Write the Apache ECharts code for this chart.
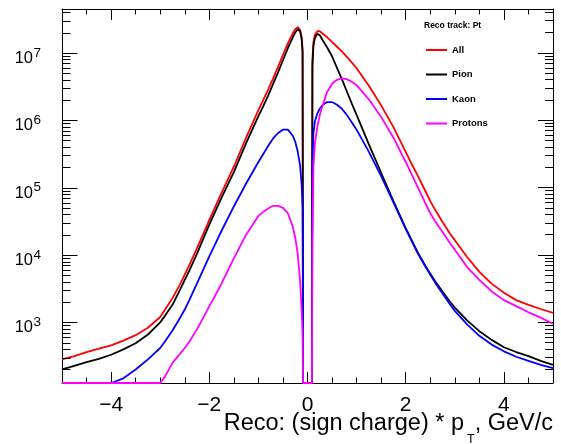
<!DOCTYPE html>
<html><head><meta charset="utf-8">
<script src="https://cdn.jsdelivr.net/npm/echarts@6/dist/echarts.min.js"></script>
<style>html,body{margin:0;padding:0;background:#fff}#c{width:561px;height:444px}</style>
</head><body><div id="c"></div>
<script>
// Reco: (sign charge) * pT  bin positions (GeV/c)
const PT = [-5.0, -4.75, -4.5, -4.25, -4.0, -3.75, -3.5, -3.25, -3.0, -2.9,
  -2.75, -2.6, -2.5, -2.4, -2.25, -2.1, -2.0, -1.9, -1.75, -1.5,
  -1.25, -1.0, -0.9, -0.8, -0.7, -0.6, -0.5, -0.4, -0.3, -0.25,
  -0.2, -0.15, -0.12, -0.1, -0.09, 0.09, 0.1, 0.12, 0.15, 0.2,
  0.25, 0.3, 0.4, 0.5, 0.6, 0.7, 0.8, 0.9, 1.0, 1.25,
  1.5, 1.75, 2.0, 2.1, 2.25, 2.4, 2.5, 2.6, 2.75, 2.9,
  3.0, 3.25, 3.5, 3.75, 4.0, 4.25, 4.5, 4.75, 5.0];
const ALL = [282, 316, 363, 407, 457, 537, 646, 832, 1200, 1550,
  2290, 3630, 5130, 7240, 12600, 22400, 33100, 47900, 83200, 204000,
  550000, 1.41e6, 2.0e6, 2.88e6, 4.17e6, 6.17e6, 9.33e6, 1.38e7, 1.95e7, 2.24e7,
  2.4e7, 2.19e7, 1.74e7, 1.12e7, 0, 0, 7.9e6, 1.41e7, 1.86e7, 2.09e7,
  2.09e7, 1.95e7, 1.7e7, 1.45e7, 1.23e7, 1.05e7, 8.7e6, 7.2e6, 5.9e6, 3.24e6,
  1.66e6, 7.9e5, 3.4e5, 2.4e5, 1.48e5, 89000, 63000, 46800, 30900, 20900,
  16600, 9330, 5620, 3760, 2750, 2140, 1820, 1580, 1380];
const PION = [200, 226, 257, 288, 331, 398, 490, 661, 1000, 1260,
  1820, 3020, 4270, 6030, 10500, 19100, 28200, 40700, 70800, 170000,
  457000, 1.15e6, 1.62e6, 2.34e6, 3.47e6, 5.13e6, 7.76e6, 1.17e7, 1.7e7, 2.0e7,
  2.24e7, 2.09e7, 1.62e7, 1.0e7, 0, 0, 6.3e6, 1.26e7, 1.66e7, 1.91e7,
  1.82e7, 1.58e7, 1.2e7, 8.9e6, 6.0e6, 4.07e6, 2.69e6, 1.78e6, 1.2e6, 4.37e5,
  1.66e5, 63100, 25100, 17800, 10700, 6920, 5250, 4070, 2880, 2040,
  1660, 1070, 741, 550, 427, 363, 316, 269, 234];
const KAON = [56, 63, 76, 91, 112, 148, 200, 282, 417, 525,
  759, 1150, 1550, 2190, 3800, 6610, 9550, 13500, 22900, 52500,
  115000, 240000, 316000, 417000, 537000, 646000, 724000, 724000, 589000, 479000,
  347000, 209000, 112000, 50000, 0, 0, 200000, 631000, 955000, 1.26e6,
  1.48e6, 1.66e6, 1.86e6, 1.86e6, 1.7e6, 1.48e6, 1.2e6, 933000, 724000, 339000,
  148000, 60300, 24500, 17400, 10500, 6760, 5130, 3890, 2690, 1860,
  1480, 933, 631, 468, 372, 309, 269, 234, 209];
const PROTONS = [0, 0, 0, 0, 0, 0, 0, 0, 0, 158,
  251, 339, 417, 525, 794, 1260, 1740, 2340, 3800, 8910,
  20000, 38000, 43700, 49000, 53700, 53700, 50100, 41700, 26300, 18200,
  10500, 3980, 1580, 630, 0, 0, 15800, 200000, 447000, 794000,
  1.2e6, 1.58e6, 2.63e6, 3.47e6, 3.98e6, 4.17e6, 4.07e6, 3.72e6, 3.31e6, 2.04e6,
  1.12e6, 550000, 240000, 170000, 100000, 58900, 41700, 31600, 21900, 15100,
  12000, 6610, 4270, 2880, 2140, 1740, 1410, 1175, 955];
const SERIES_NAMES = ['All', 'Pion', 'Kaon', 'Protons'];
const SERIES_COLORS = ['#ff0000', '#000000', '#0000ff', '#ff00ff'];
const X_TICK_LABELS = [-4, -2, 0, 2, 4];
const Y_TICK_EXPONENTS = [3, 4, 5, 6, 7];
const X_MIN = -5, X_MAX = 5;
const Y_MIN = 126, Y_MAX = 4.47e7;
const LEGEND_TITLE = 'Reco track: Pt';
const X_TITLE = ['Reco: (sign charge) * p', 'T', ', GeV/c'];

const FONT = "'Liberation Sans', Arial, Helvetica, sans-serif";
const LMIN = Math.log10(Y_MIN), LMAX = Math.log10(Y_MAX);
const minorLogs = [];
for (let e = 2; e <= 7; e++) {
  for (let k = 2; k <= 9; k++) {
    const l = Math.log10(k * Math.pow(10, e));
    if (l > LMIN && l < LMAX) minorLogs.push(l);
  }
}
function tickLine() { return { color: '#000', width: 1 }; }

function xAxisDef(pos, major) {
  const ax = {
    type: 'value', min: X_MIN, max: X_MAX, interval: 0.5, position: pos,
    axisLine: { show: !major, onZero: false, lineStyle: tickLine() },
    axisTick: { show: true, inside: true, length: major ? 11 : 5.5, lineStyle: tickLine() },
    axisLabel: { show: false },
    splitLine: { show: false }
  };
  if (major) ax.axisTick.customValues = X_TICK_LABELS;
  if (major && pos === 'bottom') {
    ax.axisLabel = {
      show: true, customValues: X_TICK_LABELS,
      formatter: v => (v < 0 ? '\u2212' + Math.abs(v) : String(v)),
      fontSize: 21, fontFamily: FONT, color: '#000', margin: 12
    };
  }
  return ax;
}
function isDecade(v) {
  const e = Math.log10(v);
  return Math.abs(e - Math.round(e)) < 1e-6 && Y_TICK_EXPONENTS.indexOf(Math.round(e)) >= 0;
}
function yLogDef(pos, withLabels) {
  const ax = {
    type: 'log', logBase: 10, min: Y_MIN, max: Y_MAX, position: pos,
    axisLine: { show: true, onZero: false, lineStyle: tickLine() },
    axisTick: { show: false },
    axisLabel: { show: false },
    splitLine: { show: false }, minorTick: { show: false }
  };
  if (withLabels) {
    ax.axisLabel = {
      show: true, margin: 21, showMinLabel: false, showMaxLabel: false,
      formatter: v => isDecade(v) ? '{b|10}{s|' + Math.round(Math.log10(v)) + '}' : '',
      rich: {
        b: { fontSize: 16.5, fontFamily: FONT, color: '#000', verticalAlign: 'bottom', padding: [11, 0, 0, 0] },
        s: { fontSize: 13.5, fontFamily: FONT, color: '#000', verticalAlign: 'top', padding: [7, 0, 0, 0.5] }
      }
    };
  }
  return ax;
}
// right-frame tick axes in log10 space
function yTickDef(vals, len) {
  return {
    type: 'value', min: LMIN, max: LMAX, position: 'right',
    axisLine: { show: false, onZero: false },
    axisTick: { show: true, inside: true, length: len, lineStyle: tickLine(), customValues: vals },
    axisLabel: { show: false },
    splitLine: { show: false }
  };
}

const xA0 = xAxisDef('bottom', false);
xA0.name = '{n|' + X_TITLE[0] + '}{t|' + X_TITLE[1] + '}{n|' + X_TITLE[2] + '}';
xA0.nameLocation = 'end';
xA0.nameGap = 0;
xA0.nameMoveOverlap = false;
xA0.nameTextStyle = {
  align: 'right', verticalAlign: 'top', padding: [29, 0, 0, 0],
  rich: {
    n: { fontSize: 23.5, fontFamily: FONT, color: '#000', verticalAlign: 'top' },
    t: { fontSize: 12.5, fontFamily: FONT, color: '#000', verticalAlign: 'top', padding: [21, 0, 0, 3] }
  }
};

const seriesVals = [ALL, PION, KAON, PROTONS];
const series = SERIES_NAMES.map((name, si) => ({
  name: name, type: 'line', xAxisIndex: 0, yAxisIndex: 0,
  data: PT.map((x, i) => [x, Math.max(seriesVals[si][i], Y_MIN)]),
  symbol: 'none', showSymbol: false, clip: true,
  lineStyle: { color: SERIES_COLORS[si], width: 1.8 },
  itemStyle: { color: SERIES_COLORS[si] },
  z: 2 + si
}));

const chart = echarts.init(document.getElementById('c'), null, { renderer: 'canvas' });
chart.setOption({
  animation: false,
  backgroundColor: '#ffffff',
  title: {
    text: LEGEND_TITLE, left: 424, top: 21, padding: 0,
    textStyle: { fontSize: 8.5, fontWeight: 'bold', fontFamily: FONT, color: '#000' }
  },
  legend: {
    orient: 'vertical', left: 426, top: 45, padding: 0,
    itemWidth: 21, itemHeight: 2, itemGap: 14.5, icon: 'rect',
    data: SERIES_NAMES,
    textStyle: { fontSize: 9.5, fontWeight: 'bold', fontFamily: FONT, color: '#000' }
  },
  grid: { left: 62, right: 8, top: 9, bottom: 61, containLabel: false, outerBoundsMode: 'none' },
  xAxis: [xA0, xAxisDef('bottom', true), xAxisDef('top', false), xAxisDef('top', true)],
  yAxis: [
    yLogDef('left', true),
    yLogDef('right', false),
    yTickDef(Y_TICK_EXPONENTS, 15),
    yTickDef(minorLogs, 8)
  ],
  series: series
});

// left-frame tick marks, placed through the chart's own log scale
const xLeft = Math.round(chart.convertToPixel({ xAxisIndex: 0 }, X_MIN)) + 0.5;
const leftTicks = [];
Y_TICK_EXPONENTS.forEach(e => leftTicks.push([Math.pow(10, e), 15]));
minorLogs.forEach(l => leftTicks.push([Math.pow(10, l), 8]));
const graphics = leftTicks.map(([v, len]) => {
  const y = Math.round(chart.convertToPixel({ yAxisIndex: 0 }, v)) + 0.5;
  return {
    type: 'line', silent: true, z: 10,
    shape: { x1: xLeft, y1: y, x2: xLeft + len, y2: y },
    style: { stroke: '#000', lineWidth: 1 }
  };
});
chart.setOption({ graphic: graphics });
</script></body></html>
